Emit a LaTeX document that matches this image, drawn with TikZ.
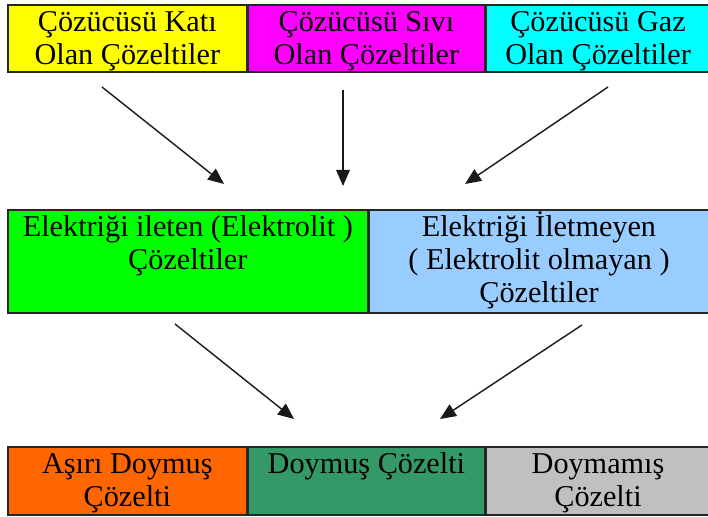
\documentclass[tikz,border=0pt]{standalone}
\usepackage{fontspec}
\setmainfont{Liberation Serif}
\usetikzlibrary{positioning,arrows.meta}
\definecolor{katiyellow}{HTML}{FFFF00}
\definecolor{sivimagenta}{HTML}{FF00FF}
\definecolor{gazcyan}{HTML}{00FFFF}
\definecolor{iletgreen}{HTML}{00FF00}
\definecolor{iletmeblue}{HTML}{99CCFF}
\definecolor{asiriorange}{HTML}{FF6600}
\definecolor{doymusgreen}{HTML}{339966}
\definecolor{doymamisgray}{HTML}{C0C0C0}
\newcommand{\boxlines}[1]{\begin{tabular}[t]{@{}c@{}}#1\end{tabular}}
\begin{document}
\begin{tikzpicture}[x=0.025cm, y=-0.025cm,
    box/.style = {draw=black!85, line width=1.1pt, inner sep=0pt,
                  font=\fontsize{21.5}{23.5}\selectfont, text height=0.675cm},
    toprow/.style = {box, text depth=1.0cm},
    midrow/.style = {box, text depth=1.9cm},
    botrow/.style = {box, text depth=1.025cm},
    arr/.style = {-{Triangle[length=0.4cm,width=0.34cm]}, line width=1pt, black!90}]
        \useasboundingbox (0,0) rectangle (708,517);
        % first row
        \node[toprow, fill=katiyellow, minimum width=5.975cm, anchor=north west] (kati) at (7,4)
            {\boxlines{Çözücüsü Katı\\Olan Çözeltiler}};
        \node[toprow, fill=sivimagenta, minimum width=5.9cm] (sivi) [right=0pt of kati]
            {\boxlines{Çözücüsü Sıvı\\Olan Çözeltiler}};
        \node[toprow, fill=gazcyan, minimum width=5.6cm] (gaz) [right=0pt of sivi]
            {\boxlines{Çözücüsü Gaz\\Olan Çözeltiler}};
        % second row
        \node[midrow, fill=iletgreen, minimum width=9cm, anchor=north west] (ileten) at (7,209)
            {\boxlines{Elektriği ileten (Elektrolit )\\Çözeltiler}};
        \node[midrow, fill=iletmeblue, minimum width=8.475cm] (iletmeyen) [right=0pt of ileten]
            {\boxlines{Elektriği İletmeyen\\( Elektrolit olmayan )\\Çözeltiler}};
        % third row
        \node[botrow, fill=asiriorange, minimum width=5.975cm, anchor=north west] (asiri) at (7,446)
            {\boxlines{Aşırı Doymuş\\Çözelti}};
        \node[botrow, fill=doymusgreen, minimum width=5.9cm] (doymus) [right=0pt of asiri]
            {\boxlines{Doymuş Çözelti}};
        \node[botrow, fill=doymamisgray, minimum width=5.6cm] (doymamis) [right=0pt of doymus]
            {\boxlines{Doymamış\\Çözelti}};
        %
        \coordinate (k1) at (102,87);  \coordinate (k2) at (224,184);
        \coordinate (s1) at (343,90);  \coordinate (s2) at (343,186);
        \coordinate (g1) at (608,87);  \coordinate (g2) at (465,184);
        \coordinate (e1) at (175,324); \coordinate (e2) at (294,419);
        \coordinate (n1) at (582,325); \coordinate (n2) at (440,419);
        \draw[arr] (k1) -- (k2);
        \draw[arr] (s1) -- (s2);
        \draw[arr] (g1) -- (g2);
        \draw[arr] (e1) -- (e2);
        \draw[arr] (n1) -- (n2);
      \end{tikzpicture}
\end{document}
